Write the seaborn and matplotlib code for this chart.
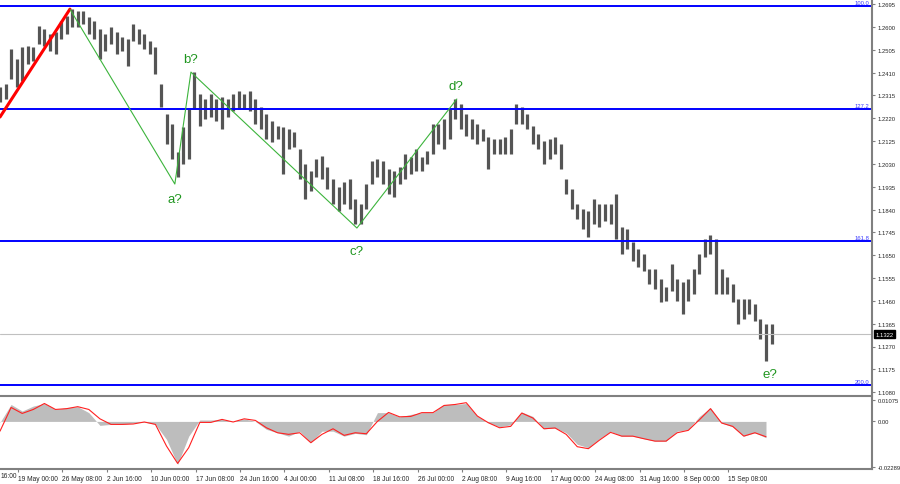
import numpy as np
import pandas as pd
import matplotlib
matplotlib.use("Agg")
import matplotlib.pyplot as plt
import matplotlib.transforms as mtrans
import seaborn as sns

# ---------------- price bars (high / low), one bar per slot ----------------
highs = [1.2350, 1.2362, 1.2508, 1.2466, 1.2516, 1.2520, 1.2516, 1.2604, 1.2591, 1.2570,
         1.2579, 1.2624, 1.2645, 1.2674, 1.2666, 1.2666, 1.2641, 1.2624, 1.2591, 1.2570,
         1.2600, 1.2579, 1.2558, 1.2550, 1.2612, 1.2591, 1.2570, 1.2541, 1.2516, 1.2362,
         1.2238, 1.2196, 1.2080, 1.2183, 1.2258, 1.2412, 1.2321, 1.2300, 1.2321, 1.2300,
         1.2308, 1.2300, 1.2321, 1.2333, 1.2321, 1.2333, 1.2300, 1.2267, 1.2238, 1.2208,
         1.2188, 1.2183, 1.2175, 1.2163, 1.2092, 1.2030, 1.2000, 1.2050, 1.2063, 1.2017,
         1.1967, 1.1934, 1.1955, 1.1967, 1.1884, 1.1863, 1.1946, 1.2042, 1.2050, 1.2042,
         1.2009, 1.2000, 1.2017, 1.2071, 1.2059, 1.2092, 1.2059, 1.2084, 1.2196, 1.2196,
         1.2217, 1.2258, 1.2300, 1.2279, 1.2238, 1.2217, 1.2196, 1.2175, 1.2142, 1.2134,
         1.2134, 1.2142, 1.2175, 1.2279, 1.2267, 1.2238, 1.2188, 1.2154, 1.2125, 1.2134,
         1.2142, 1.2113, 1.1967, 1.1926, 1.1863, 1.1842, 1.1834, 1.1884, 1.1863, 1.1863,
         1.1863, 1.1905, 1.1767, 1.1759, 1.1705, 1.1676, 1.1655, 1.1593, 1.1593, 1.1551,
         1.1518, 1.1614, 1.1551, 1.1539, 1.1551, 1.1593, 1.1655, 1.1718, 1.1734, 1.1718,
         1.1593, 1.1560, 1.1530, 1.1468, 1.1468, 1.1468, 1.1447, 1.1385, 1.1364, 1.1364]

lows = [1.2288, 1.2300, 1.2383, 1.2350, 1.2375, 1.2446, 1.2458, 1.2529, 1.2520, 1.2500,
        1.2487, 1.2550, 1.2570, 1.2600, 1.2600, 1.2612, 1.2570, 1.2550, 1.2466, 1.2500,
        1.2529, 1.2487, 1.2500, 1.2437, 1.2541, 1.2529, 1.2508, 1.2487, 1.2404, 1.2267,
        1.2113, 1.2050, 1.1976, 1.2030, 1.2050, 1.2258, 1.2188, 1.2217, 1.2225, 1.2208,
        1.2175, 1.2225, 1.2250, 1.2258, 1.2258, 1.2250, 1.2196, 1.2175, 1.2134, 1.2121,
        1.2134, 1.1988, 1.2092, 1.2100, 1.1967, 1.1884, 1.1917, 1.1976, 1.1967, 1.1926,
        1.1863, 1.1834, 1.1863, 1.1842, 1.1780, 1.1780, 1.1842, 1.1946, 1.1976, 1.1946,
        1.1905, 1.1892, 1.1946, 1.1967, 1.1988, 1.2000, 1.2000, 1.2030, 1.2071, 1.2113,
        1.2092, 1.2134, 1.2217, 1.2175, 1.2146, 1.2134, 1.2113, 1.2125, 1.2009, 1.2071,
        1.2071, 1.2071, 1.2071, 1.2196, 1.2196, 1.2175, 1.2113, 1.2092, 1.2030, 1.2050,
        1.2071, 1.2009, 1.1905, 1.1842, 1.1801, 1.1759, 1.1726, 1.1780, 1.1767, 1.1792,
        1.1780, 1.1718, 1.1655, 1.1676, 1.1626, 1.1601, 1.1585, 1.1530, 1.1510, 1.1456,
        1.1460, 1.1501, 1.1460, 1.1406, 1.1460, 1.1489, 1.1572, 1.1643, 1.1655, 1.1489,
        1.1489, 1.1489, 1.1456, 1.1364, 1.1385, 1.1406, 1.1376, 1.1302, 1.1210, 1.1281]

last_price = 1.1322

# ---------------- oscillator (every second slot) ----------------
osc_hist = [-0.0005, 0.0085, 0.0052, 0.0077, 0.0090, 0.0060, 0.0069, 0.0074, 0.0044, -0.0020,
            -0.0015, -0.0015, -0.0008, -0.0003, -0.0015, -0.0090, -0.0216, -0.0074, 0.0007, 0.0007,
            0.0010, 0.0000, 0.0013, 0.0000, -0.0040, -0.0057, -0.0074, -0.0050, -0.0107, -0.0049,
            -0.0049, -0.0074, -0.0060, -0.0067, 0.0044, 0.0044, 0.0023, 0.0035, 0.0044, 0.0044,
            0.0085, 0.0085, 0.0090, 0.0027, -0.0007, -0.0027, -0.0017, 0.0047, 0.0025, -0.0037,
            -0.0033, -0.0057, -0.0115, -0.0132, -0.0087, -0.0050, -0.0074, -0.0074, -0.0087, -0.0099,
            -0.0099, -0.0049, -0.0041, 0.0025, 0.0069, -0.0008, -0.0027, -0.0074, -0.0057, -0.0082]

osc_signal = [-0.0049, 0.0070, 0.0040, 0.0060, 0.0090, 0.0060, 0.0064, 0.0074, 0.0060, 0.0013,
              -0.0015, -0.0015, -0.0013, -0.0003, -0.0015, -0.0124, -0.0211, -0.0132, -0.0005, -0.0005,
              0.0010, -0.0003, 0.0013, 0.0005, -0.0032, -0.0057, -0.0065, -0.0057, -0.0107, -0.0065,
              -0.0037, -0.0070, -0.0057, -0.0062, 0.0000, 0.0045, 0.0023, 0.0025, 0.0044, 0.0044,
              0.0080, 0.0085, 0.0094, 0.0027, -0.0007, -0.0032, -0.0025, 0.0042, 0.0017, -0.0037,
              -0.0033, -0.0065, -0.0127, -0.0137, -0.0094, -0.0055, -0.0074, -0.0074, -0.0087, -0.0099,
              -0.0099, -0.0057, -0.0045, 0.0008, 0.0064, -0.0008, -0.0025, -0.0074, -0.0057, -0.0077]

# ---------------- wave marking ----------------
impulse_pos = [0.0, 12.6]
impulse_price = [1.2225, 1.2674]
wave_pos = [12.6, 31.5, 34.4, 64.3, 82.3]
wave_price = [1.2674, 1.1946, 1.2412, 1.1763, 1.2300]
label_names = ["a?", "b?", "c?", "d?", "e?"]
label_pos = [31.5, 34.3, 64.3, 82.2, 138.7]
label_price = [1.1884, 1.2466, 1.1668, 1.2354, 1.1156]

fib_levels = [1.2687, 1.2258, 1.1711, 1.1110]
fib_names = ["100.0", "127.2", "161.8", "200.0"]

price_ticks = [1.2695, 1.2600, 1.2505, 1.2410, 1.2315, 1.2220, 1.2125, 1.2030, 1.1935,
               1.1840, 1.1745, 1.1650, 1.1555, 1.1460, 1.1365, 1.1270, 1.1175, 1.1080]
osc_ticks = [0.01075, 0.0, -0.02289]
osc_tick_labels = ["0.01075", "0.00", "-0.02289"]
date_labels = ["19 May 00:00", "26 May 08:00", "2 Jun 16:00", "10 Jun 00:00", "17 Jun 08:00",
               "24 Jun 16:00", "4 Jul 00:00", "11 Jul 08:00", "18 Jul 16:00", "26 Jul 00:00",
               "2 Aug 08:00", "9 Aug 16:00", "17 Aug 00:00", "24 Aug 08:00", "31 Aug 16:00",
               "8 Sep 00:00", "15 Sep 08:00"]

bars = pd.DataFrame({"pos": np.arange(len(highs)), "high": highs, "low": lows})
osc = pd.DataFrame({"pos": np.arange(len(osc_hist)) * 2, "hist": osc_hist, "signal": osc_signal})

sns.set_style("white")
plt.rcParams["font.family"] = ["Liberation Sans", "DejaVu Sans"]

fig = plt.figure(figsize=(9, 4.85), dpi=100)
ax = fig.add_axes([0, 1 - 397 / 485, 872 / 900, 396 / 485])
ax2 = fig.add_axes([0, 1 - 470 / 485, 872 / 900, 71 / 485], sharex=ax)

xmax = 157.1
mixed = mtrans.blended_transform_factory(ax.transAxes, ax.transData)

# =============================== main panel ===============================
ax.vlines(bars["pos"], bars["low"], bars["high"], color="#555555", lw=2.3)

for lvl, name in zip(fib_levels, fib_names):
    ax.axhline(lvl, color="#0000ff", lw=1.4)
    ax.text(0.997, lvl + 0.0003, name, transform=mixed,
            ha="right", va="bottom", fontsize=4.2, color="#3a3aff")

ax.axhline(last_price, color="#c0c0c0", lw=0.8)

sns.lineplot(x=impulse_pos, y=impulse_price, ax=ax, color="#ff0000", lw=2.2)
sns.lineplot(x=wave_pos, y=wave_price, ax=ax, color="#3cb43c", lw=0.8, sort=False)
for name, px, py in zip(label_names, label_pos, label_price):
    ax.text(px, py, name, ha="center", va="center", fontsize=9.5, color="#1f961f")

ax.set_xlim(0, xmax)
ax.set_ylim(1.1064, 1.2712)
ax.yaxis.tick_right()
ax.set_yticks(price_ticks)
ax.set_yticklabels([f"{v:.4f}" for v in price_ticks])
ax.tick_params(axis="y", labelsize=4.2, length=2, pad=2, color="#808080", right=True, left=False)
ax.tick_params(axis="x", bottom=False, labelbottom=False)
ax.text(1.004, last_price, f"{last_price:.4f}", transform=mixed,
        ha="left", va="center", fontsize=4.2, color="white",
        bbox=dict(boxstyle="square,pad=0.3", fc="black", ec="black"))
for s in ["left", "top"]:
    ax.spines[s].set_visible(False)
for s in ["right", "bottom"]:
    ax.spines[s].set_color("#808080")
    ax.spines[s].set_linewidth(1.5)

# =============================== oscillator ===============================
ax2.fill_between(osc["pos"], osc["hist"], 0, color="#bdbdbd", linewidth=0)
sns.lineplot(data=osc, x="pos", y="signal", ax=ax2, color="#ff2020", lw=0.8)
ax2.set_ylim(-0.0239, 0.01175)
ax2.yaxis.tick_right()
ax2.set_yticks(osc_ticks)
ax2.set_yticklabels(osc_tick_labels)
ax2.set_xticks([3.24 + 8 * i for i in range(len(date_labels))])
ax2.set_xticklabels(date_labels)
for lab in ax2.get_xticklabels():
    lab.set_ha("left")
ax2.tick_params(axis="y", labelsize=4.2, length=2, pad=2, color="#808080", right=True, left=False)
ax2.tick_params(axis="x", labelsize=4.8, length=2, pad=2, color="#808080", bottom=True)
ax2.set_xlabel("")
ax2.set_ylabel("")
ax.set_xlabel("")
ax.set_ylabel("")
ax2.set_xlim(0, xmax)
for s in ["left", "top"]:
    ax2.spines[s].set_visible(False)
for s in ["right", "bottom"]:
    ax2.spines[s].set_color("#808080")
    ax2.spines[s].set_linewidth(1.5)

# visible tail of the first (cut) date label at the left edge
fig.text(1 / 900, 1 - 477 / 485, "16:00", fontsize=4.8, ha="left", va="center")

fig.savefig("out.png", dpi=100)
